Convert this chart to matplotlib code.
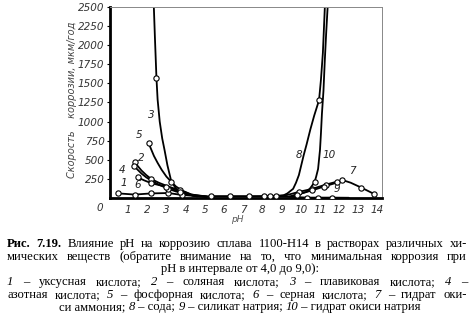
import matplotlib
matplotlib.use('Agg')
import matplotlib.pyplot as plt

# ---- data (pH, corrosion rate um/year) ----
ph_1 = [0.5, 1.35, 2.2, 3.1, 3.8, 4.6, 5.2, 6.2, 7.2, 8.2, 9.3, 10.3, 10.9, 11.6, 12.5]
rate_1 = [60, 45, 60, 65, 40, 25, 22, 22, 22, 22, 18, 5, 5, 5, 3]
mk_1 = [0, 1, 2, 3, 4, 11, 12, 13]

ph_2 = [1.34, 1.5, 1.7, 1.95, 2.2, 2.6, 3.1, 3.7, 4.3, 5.1]
rate_2 = [470, 420, 360, 300, 250, 200, 150, 100, 45, 20]
mk_2 = [0, 4, 7]

ph_3 = [2.33, 2.4, 2.48, 2.54, 2.65, 2.78, 2.9, 3.05, 3.25, 3.5, 3.9, 4.5, 5.1]
rate_3 = [2600, 2100, 1570, 1290, 1000, 780, 630, 430, 220, 120, 60, 25, 15]
mk_3 = [2]

ph_4 = [1.3, 1.5, 1.7, 1.95, 2.2, 2.6, 3.1, 3.5, 3.9, 4.6]
rate_4 = [420, 370, 320, 270, 230, 175, 120, 85, 60, 20]
mk_4 = [0, 6]

ph_5 = [2.07, 2.2, 2.35, 2.54, 2.75, 3.0, 3.26, 3.5, 3.8, 4.3, 5.1]
rate_5 = [720, 640, 550, 460, 370, 280, 210, 150, 100, 45, 15]
mk_5 = [0, 6]

ph_6 = [1.5, 1.85, 2.2, 2.6, 3.0, 3.35, 3.7, 4.4, 5.1]
rate_6 = [270, 230, 195, 170, 150, 115, 80, 30, 15]
mk_6 = [0, 2, 4, 6]

ph_7 = [8.1, 8.7, 9.3, 9.9, 10.6, 11.3, 11.9, 12.17, 12.6, 13.16, 13.8]
rate_7 = [20, 20, 40, 80, 120, 175, 215, 235, 200, 135, 55]
mk_7 = [0, 1, 3, 4, 5, 6, 7, 9, 10]

ph_8 = [5.3, 6.3, 7.3, 8.4, 9.1, 9.3, 9.6, 9.75, 9.9, 10.15, 10.3, 10.5, 10.7, 10.95, 11.05, 11.15, 11.27]
rate_8 = [22, 22, 22, 25, 35, 60, 120, 200, 300, 560, 700, 900, 1080, 1280, 1550, 1900, 2600]
mk_8 = [0, 1, 2, 3, 13]

ph_9 = [9.4, 9.8, 10.6, 11.2, 11.8, 12.17]
rate_9 = [20, 45, 100, 150, 195, 235]
mk_9 = [1, 2, 3]

ph_10 = [9.6, 10.3, 10.5, 10.72, 10.8, 10.9, 11.0, 11.05, 11.1, 11.18, 11.25, 11.32, 11.42]
rate_10 = [30, 80, 130, 210, 280, 380, 630, 850, 1100, 1400, 1800, 2150, 2600]
mk_10 = [3]

curves = [(ph_1, rate_1, mk_1), (ph_2, rate_2, mk_2), (ph_3, rate_3, mk_3),
          (ph_4, rate_4, mk_4), (ph_5, rate_5, mk_5), (ph_6, rate_6, mk_6),
          (ph_7, rate_7, mk_7), (ph_8, rate_8, mk_8), (ph_9, rate_9, mk_9),
          (ph_10, rate_10, mk_10)]

# curve labels: (text, pH, rate)
curve_labels = [('1', 0.8, 200), ('2', 1.7, 520), ('3', 2.2, 1090), ('4', 0.7, 370),
                ('5', 1.6, 820), ('6', 1.5, 170), ('7', 12.7, 350), ('8', 9.9, 560),
                ('9', 11.9, 120), ('10', 11.45, 560)]

yticks = [250, 500, 750, 1000, 1250, 1500, 1750, 2000, 2250, 2500]
xticks = list(range(1, 15))

caption_lines = [
    ('justify', [('Рис.', 'b'), ('7.19.', 'b'), ('Влияние', ''), ('pH', ''), ('на', ''),
                 ('коррозию', ''), ('сплава', ''), ('1100-Н14', ''), ('в', ''),
                 ('растворах', ''), ('различных', ''), ('хи-', '')]),
    ('justify', [('мических', ''), ('веществ', ''), ('(обратите', ''), ('внимание', ''),
                 ('на', ''), ('то,', ''), ('что', ''), ('минимальная', ''),
                 ('коррозия', ''), ('при', '')]),
    ('center', [('pH в интервале от 4,0 до 9,0):', '')]),
    ('justify', [('1', 'i'), ('–', ''), ('уксусная', ''), ('кислота;', ''), ('2', 'i'),
                 ('–', ''), ('соляная', ''), ('кислота;', ''), ('3', 'i'), ('–', ''),
                 ('плавиковая', ''), ('кислота;', ''), ('4', 'i'), ('–', '')]),
    ('justify', [('азотная', ''), ('кислота;', ''), ('5', 'i'), ('–', ''), ('фосфорная', ''),
                 ('кислота;', ''), ('6', 'i'), ('–', ''), ('серная', ''), ('кислота;', ''),
                 ('7', 'i'), ('–', ''), ('гидрат', ''), ('оки-', '')]),
    ('center', [('си аммония; ', ''), ('8', 'i'), (' – сода; ', ''), ('9', 'i'),
                (' – силикат натрия; ', ''), ('10', 'i'), (' – гидрат окиси натрия', '')]),
]
caption_baselines = [247, 260, 272, 285, 298, 310]

W, H = 474, 315
fig = plt.figure(figsize=(W / 100, H / 100), dpi=100)
ax = fig.add_axes([110 / W, 1 - 198 / H, (382 - 110) / W, (198 - 7) / H])

for xs, ys, mk in curves:
    ax.plot(xs, ys, color='black', lw=1.3, solid_capstyle='round', solid_joinstyle='round')
    ax.plot([xs[i] for i in mk], [ys[i] for i in mk], ls='none', marker='o', ms=3.8,
            mfc='white', mec='black', mew=0.8, zorder=5)

for s, x, y in curve_labels:
    ax.text(x, y, s, style='italic', fontsize=7.5, color='#222222', ha='center', va='center',
            family='DejaVu Sans')

ax.set_xlim(0.06, 14.23)
ax.set_ylim(0, 2500)
ax.set_yticks(yticks)
ax.set_yticklabels([str(v) for v in yticks], style='italic', fontsize=7.5, color='#333333')
ax.set_xticks(xticks)
ax.set_xticklabels([str(v) for v in xticks], style='italic', fontsize=7.5, color='#333333')
ax.tick_params(axis='y', length=2.5, width=0.8, pad=1.5)
ax.tick_params(axis='x', length=0, pad=5)
ax.spines['left'].set_linewidth(2.0)
ax.spines['bottom'].set_linewidth(2.0)
ax.spines['top'].set_linewidth(0.7)
ax.spines['right'].set_linewidth(0.7)
ax.spines['top'].set_color('#888888')
ax.spines['right'].set_color('#888888')
fig.text(100 / W, 1 - 208 / H, '0', style='italic', fontsize=7.5, color='#333333',
         ha='center', va='center')
fig.text(237 / W, 1 - 220 / H, 'pH', style='italic', fontsize=6.5, color='#555555',
         ha='center', va='center')
fig.text(72 / W, 1 - 100 / H, 'Скорость    коррозии, мкм/год', rotation=90, style='italic',
         fontsize=7, color='#444444', ha='center', va='center')

# ---- caption, justified like the book ----
renderer = fig.canvas.get_renderer()
x_left, x_right = 7, 467
cap_font = 'Liberation Serif'
cap_size = 9.1


def make_word(s, st, y):
    kw = dict(fontsize=cap_size, family=cap_font, va='baseline', ha='left', color='black')
    if st == 'b':
        kw['weight'] = 'bold'
    if st == 'i':
        kw['style'] = 'italic'
    return fig.text(0, 1 - y / H, s, **kw)


for (mode, parts), yb in zip(caption_lines, caption_baselines):
    words = [make_word(s, st, yb) for s, st in parts]
    widths = [w.get_window_extent(renderer).width for w in words]
    if mode == 'justify':
        gap = (x_right - x_left - sum(widths)) / (len(words) - 1)
        x = x_left
    else:
        gap = 0
        x = (x_left + x_right) / 2 + 3 - sum(widths) / 2
    for w, wd in zip(words, widths):
        w.set_x(x / W)
        x += wd + gap

fig.savefig('out.png', dpi=100)
